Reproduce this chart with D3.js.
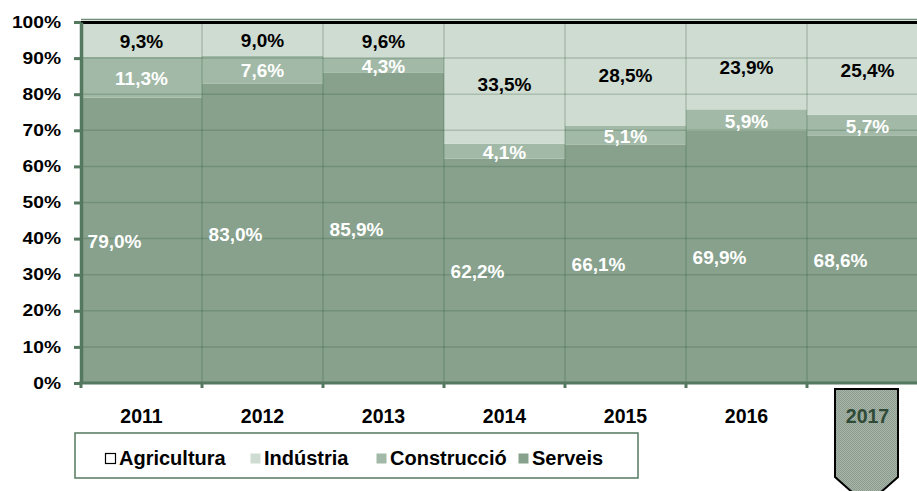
<!DOCTYPE html>
<html>
<head>
<meta charset="utf-8">
<script src="https://cdn.jsdelivr.net/npm/d3@7"></script>
<style>
    body { margin: 0; background: #fff; }
    #chart svg { display: block; font-family: "Liberation Sans", Arial, sans-serif; font-weight: bold; }
</style>
</head>
<body>
<div id="chart"></div>
<script>
// values (percent of employed population)
var years = ["2011", "2012", "2013", "2014", "2015", "2016", "2017"];
var serveis = [79.0, 83.0, 85.9, 62.2, 66.1, 69.9, 68.6];
var construccio = [11.3, 7.6, 4.3, 4.1, 5.1, 5.9, 5.7];
var industria = [9.3, 9.0, 9.6, 33.5, 28.5, 23.9, 25.4];
var agricultura = [0.4, 0.4, 0.2, 0.2, 0.3, 0.3, 0.3];
var yTicks = [0, 10, 20, 30, 40, 50, 60, 70, 80, 90, 100];
var legendLabels = ["Agricultura", "Indústria", "Construcció", "Serveis"];

var width = 917,
    height = 491,
    margin = { top: 22, left: 81, bottom: 108 };

var colors = {
    "Agricultura": "#ffffff",
    "Indústria": "#cfdcd1",
    "Construcció": "#a1b9a6",
    "Serveis": "#87a18d"
};
var labelColors = { "Indústria": "#000", "Construcció": "#fff", "Serveis": "#fff" };
// the Serveis labels sit a bit left of the column centre in the original
var labelShift = { "Indústria": 0, "Construcció": 0, "Serveis": -27 };
var axisColor = "#557860";

var rows = years.map(function (y, i) {
    return {
        year: y,
        "Serveis": serveis[i],
        "Construcció": construccio[i],
        "Indústria": industria[i],
        "Agricultura": agricultura[i]
    };
});

var series = d3.stack()
    .keys(["Serveis", "Construcció", "Indústria", "Agricultura"])(rows);

// plot runs past the right edge of the window, like the original
var x = d3.scaleBand().domain(years).range([margin.left, margin.left + 7 * 121]).padding(0);
var y = d3.scaleLinear().domain([0, 100]).range([height - margin.bottom, margin.top]);

var svg = d3.select("#chart").append("svg")
    .attr("width", width)
    .attr("height", height);

var defs = svg.append("defs");
var pat = defs.append("pattern")
    .attr("id", "dots")
    .attr("width", 2).attr("height", 2)
    .attr("patternUnits", "userSpaceOnUse");
pat.append("rect").attr("width", 2).attr("height", 2).attr("fill", "#a7b4a8");
pat.append("rect").attr("width", 1).attr("height", 1).attr("fill", "#8c9c8e");
pat.append("rect").attr("x", 1).attr("y", 1).attr("width", 1).attr("height", 1).attr("fill", "#8c9c8e");

// stacked bars
svg.append("g")
    .selectAll("g")
    .data(series).enter()
    .append("g")
    .attr("fill", function (d) { return colors[d.key]; })
    .selectAll("rect")
    .data(function (d) { return d; }).enter()
    .append("rect")
    .attr("x", function (d) { return x(d.data.year); })
    .attr("width", x.bandwidth())
    .attr("y", function (d) { return y(d[1]); })
    .attr("height", function (d) { return y(d[0]) - y(d[1]); });

// gridlines on top of the bars
svg.append("g")
    .attr("class", "grid")
    .selectAll("line")
    .data(yTicks.filter(function (t) { return t > 0 && t < 100; })).enter()
    .append("line")
    .attr("x1", margin.left).attr("x2", width)
    .attr("y1", function (d) { return y(d); })
    .attr("y2", function (d) { return y(d); })
    .attr("stroke", "rgba(40,80,50,0.22)")
    .attr("stroke-width", 1.5);

svg.append("g")
    .selectAll("line")
    .data(years.slice(1)).enter()
    .append("line")
    .attr("x1", function (d) { return x(d); })
    .attr("x2", function (d) { return x(d); })
    .attr("y1", y(100)).attr("y2", y(0))
    .attr("stroke", "rgba(40,80,50,0.22)")
    .attr("stroke-width", 1.5);

// top border of the plot
svg.append("line")
    .attr("x1", margin.left).attr("x2", width)
    .attr("y1", y(100) - 2.5).attr("y2", y(100) - 2.5)
    .attr("stroke", "#6f8c76").attr("stroke-width", 1.5);
svg.append("line")
    .attr("x1", margin.left).attr("x2", width)
    .attr("y1", y(100) + 0.5).attr("y2", y(100) + 0.5)
    .attr("stroke", "#000").attr("stroke-width", 3);

// data labels
var labelSeries = series.filter(function (s) { return s.key != "Agricultura"; });
svg.append("g")
    .selectAll("g")
    .data(labelSeries).enter()
    .append("g")
    .attr("fill", function (d) { return labelColors[d.key]; })
    .attr("transform", function (d) { return "translate(" + labelShift[d.key] + ",0)"; })
    .selectAll("text")
    .data(function (d) { return d; }).enter()
    .append("text")
    .attr("x", function (d) { return x(d.data.year) + x.bandwidth() / 2; })
    .attr("y", function (d) { return (y(d[0]) + y(d[1])) / 2 + 1; })
    .attr("dy", "0.35em")
    .attr("text-anchor", "middle")
    .style("font-size", "19px")
    .text(function (d) { return (d[1] - d[0]).toFixed(1).replace(".", ",") + "%"; });

// y axis
var yAxis = svg.append("g")
    .attr("transform", "translate(" + margin.left + ",0)")
    .call(d3.axisLeft(y)
        .tickValues(yTicks)
        .tickSize(7)
        .tickSizeOuter(0)
        .tickFormat(function (d) { return d + "%"; }));
yAxis.select(".domain").attr("stroke", axisColor).attr("stroke-width", 3.5);
yAxis.selectAll(".tick line").attr("stroke", axisColor).attr("stroke-width", 3);
yAxis.selectAll(".tick text")
    .attr("x", 0)
    .attr("transform", "translate(-20,0) scale(1.2,1)")
    .attr("fill", "#000")
    .style("font-size", "16px")
    .style("font-family", "'Liberation Sans', Arial, sans-serif")
    .style("font-weight", "bold");

// marker behind the last year
var cx = x("2017") + x.bandwidth() / 2 - 1;
svg.append("path")
    .attr("d", "M" + (cx - 31.5) + ",389 L" + (cx + 31.5) + ",389 L" + (cx + 31.5) + ",477 L" + cx + ",505 L" + (cx - 31.5) + ",477 Z")
    .attr("fill", "url(#dots)")
    .attr("stroke", "#000")
    .attr("stroke-width", 2);

// x axis
var xAxis = svg.append("g")
    .attr("transform", "translate(0," + y(0) + ")")
    .call(d3.axisBottom(x).tickSize(0).tickPadding(26));
xAxis.select(".domain").remove();
xAxis.selectAll(".tick text")
    .attr("fill", function (d) { return d == "2017" ? "#2f4a37" : "#000"; })
    .style("font-size", "19.5px")
    .style("font-family", "'Liberation Sans', Arial, sans-serif")
    .style("font-weight", "bold");

svg.append("g")
    .selectAll("line")
    .data(years.concat(["end"])).enter()
    .append("line")
    .attr("x1", function (d, i) { return margin.left + i * x.step(); })
    .attr("x2", function (d, i) { return margin.left + i * x.step(); })
    .attr("y1", y(0)).attr("y2", y(0) + 5)
    .attr("stroke", axisColor).attr("stroke-width", 3);

svg.append("line")
    .attr("x1", margin.left - 2).attr("x2", width)
    .attr("y1", y(0)).attr("y2", y(0))
    .attr("stroke", axisColor).attr("stroke-width", 3);

// legend
var legendX = [105, 250, 376, 518];
var legend = svg.append("g");
legend.append("rect")
    .attr("x", 75).attr("y", 433)
    .attr("width", 563).attr("height", 45)
    .attr("fill", "#fff")
    .attr("stroke", axisColor)
    .attr("stroke-width", 1.5);

var items = legend.selectAll("g.item")
    .data(legendLabels).enter()
    .append("g")
    .attr("class", "item")
    .attr("transform", function (d, i) { return "translate(" + legendX[i] + ",453)"; });
items.append("rect")
    .attr("x", 0.5).attr("y", 0.5)
    .attr("width", 10).attr("height", 10)
    .attr("fill", function (d) { return colors[d]; })
    .attr("stroke", function (d) { return d == "Agricultura" ? "#000" : "none"; })
    .attr("stroke-width", 1.2);
items.append("text")
    .attr("x", 14)
    .attr("y", 12)
    .style("font-size", "20px")
    .text(function (d) { return d; });
</script>
</body>
</html>
